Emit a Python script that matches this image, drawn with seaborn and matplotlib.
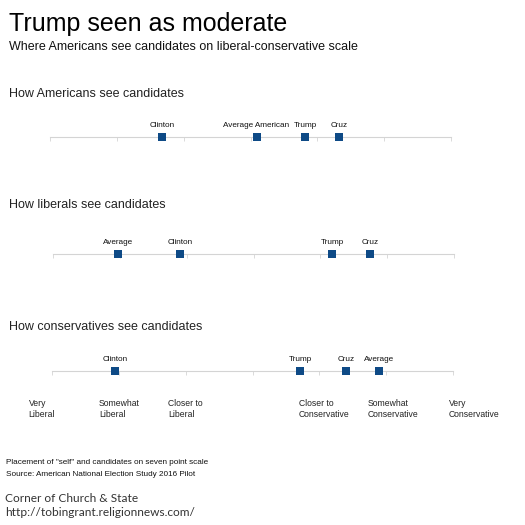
"""
Trump seen as moderate - dot scale chart
"""
import pandas as pd
import matplotlib.pyplot as plt
import seaborn as sns

# data: placement on the seven point scale (1 = very liberal, 7 = very conservative)
americans_names = ["Clinton", "Average American", "Trump", "Cruz"]
americans_vals = [2.68, 4.09, 4.82, 5.33]

liberals_names = ["Average", "Clinton", "Trump", "Cruz"]
liberals_vals = [1.97, 2.90, 5.18, 5.75]

conservatives_names = ["Clinton", "Trump", "Cruz", "Average"]
conservatives_vals = [1.95, 4.71, 5.40, 5.89]

panel_titles = ["How Americans see candidates",
                "How liberals see candidates",
                "How conservatives see candidates"]

scale_ticks = [1, 2, 3, 4, 5, 6, 7]
scale_labels = ["Very\nLiberal", "Somewhat\nLiberal", "Closer to\nLiberal", "",
                "Closer to\nConservative", "Somewhat\nConservative", "Very\nConservative"]

sns.set_theme(style="white")
plt.rcParams['font.family'] = ['Liberation Sans', 'DejaVu Sans']
plt.rcParams['text.color'] = "black"

BLUE = "#0e4a86"
GREY = "#d4d4d4"

fig = plt.figure(figsize=(5.25, 5.25), dpi=100)

fig.text(9 / 525, 1 - 24 / 525, "Trump seen as moderate", fontsize=18, va="center", ha="left")
fig.text(9 / 525, 1 - 47 / 525, "Where Americans see candidates on liberal-conservative scale",
         fontsize=9, va="center", ha="left", color="#111111")

# (names, values, line y px, heading y px, line left px)
panels = [(americans_names, americans_vals, 137, 94, 50),
          (liberals_names, liberals_vals, 254, 205, 53),
          (conservatives_names, conservatives_vals, 371, 327, 52)]

for i, (names, vals, ypix, tpix, xpix) in enumerate(panels):
    fig.text(9 / 525, 1 - tpix / 525, panel_titles[i], fontsize=9, va="center", ha="left",
             color="#222222")
    h = 40 / 525
    ax = fig.add_axes([xpix / 525, 1 - ypix / 525 - h / 2, 401 / 525, h])
    df = pd.DataFrame({"name": names, "value": vals, "y": [0] * len(vals)})
    sns.scatterplot(data=df, x="value", y="y", marker="s", s=28, color=BLUE,
                    edgecolor=BLUE, linewidth=0, ax=ax, zorder=3, clip_on=False)
    for n, v in zip(names, vals):
        ax.annotate(n, (v, 0), xytext=(0, 5.5), textcoords="offset points",
                    ha="center", va="bottom", fontsize=5.9, color="#111111")
    ax.set_xlim(1, 7)
    ax.set_ylim(-1, 1)
    for s in ["top", "left", "right"]:
        ax.spines[s].set_visible(False)
    ax.spines["bottom"].set_position(("data", 0))
    ax.spines["bottom"].set_color(GREY)
    ax.spines["bottom"].set_linewidth(0.8)
    ax.set_xticks(scale_ticks)
    ax.set_xticklabels([])
    ax.set_yticks([])
    ax.tick_params(axis="x", direction="out", length=3, width=0.6, color=GREY, bottom=True)
    ax.set_xlabel("")
    ax.set_ylabel("")
    ax.patch.set_alpha(0)

    if i == 2:
        offsets = [-0.35, -0.3, -0.26, 0, -0.31, -0.28, -0.06]
        for t, lab, off in zip(scale_ticks, scale_labels, offsets):
            ax.annotate(lab, (t + off, 0), xytext=(0, -20.5), textcoords="offset points",
                        ha="left", va="top", fontsize=6.2, color="#222222",
                        linespacing=1.25, annotation_clip=False)

fig.text(6 / 525, 1 - 463 / 525, 'Placement of "self" and candidates on seven point scale',
         fontsize=5.9, va="center", ha="left", color="#111111")
fig.text(6 / 525, 1 - 474 / 525, "Source: American National Election Study 2016 Pilot",
         fontsize=5.9, va="center", ha="left", color="#111111")
fig.text(5 / 525, 1 - 498 / 525, "Corner of Church & State", fontsize=8.6,
         va="center", ha="left", family=["Lato", "DejaVu Sans"], color="#333333")
fig.text(5 / 525, 1 - 513 / 525, "http://tobingrant.religionnews.com/", fontsize=8.6,
         va="center", ha="left", family=["Lato", "DejaVu Sans"], color="#333333")

plt.savefig("out.png", dpi=100)
